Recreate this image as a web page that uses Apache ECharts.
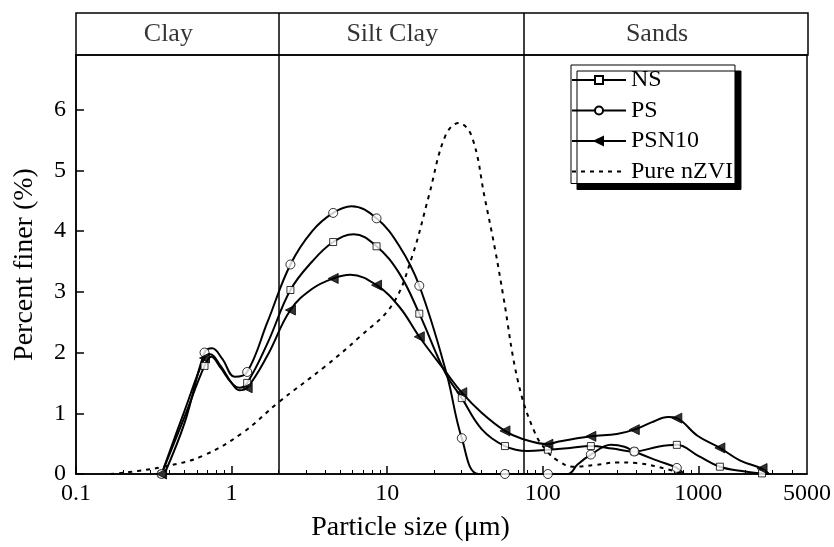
<!DOCTYPE html>
<html lang="en">
<head>
<meta charset="UTF-8">
<title>Particle size distribution</title>
<style>
html, body { margin: 0; padding: 0; background: #fff; }
#chart { width: 834px; height: 547px; }
</style>
</head>
<body>
<div id="chart"></div>
<script src="https://cdn.jsdelivr.net/npm/echarts@6/dist/echarts.min.js"></script>
<script>
// sizes (um) where the markers sit
var markSize = [0.355, 0.67, 1.26, 2.39, 4.5, 8.55, 16.1, 30.2, 57.2, 108, 204, 388, 728, 1377, 2570];
var nsMarks  = [0, 1.78, 1.5, 3.03, 3.82, 3.75, 2.64, 1.25, 0.46, 0.40, 0.46, 0.37, 0.48, 0.12, 0.01];
var psMarks  = [0, 2.0, 1.68, 3.45, 4.30, 4.21, 3.10, 0.59, 0, 0, 0.32, 0.37, 0.10, null, null];
var psnMarks = [0, 1.91, 1.42, 2.70, 3.22, 3.11, 2.26, 1.34, 0.71, 0.49, 0.62, 0.73, 0.92, 0.43, 0.09];

// curves, [size, percent]
var nsCurve = [[0.355, 0], [0.5, 0.95], [0.67, 1.78], [0.74, 1.93], [0.85, 1.75], [1.0, 1.5],
  [1.12, 1.42], [1.26, 1.5], [1.7, 2.15], [2.39, 3.03], [3.3, 3.5], [4.5, 3.82], [6.1, 3.95], [8.55, 3.75],
  [12, 3.3], [16.1, 2.64], [23.6, 1.67], [30.2, 1.25], [40.5, 0.74], [57.2, 0.46], [80, 0.38], [108, 0.40],
  [150, 0.43], [204, 0.46], [280, 0.42], [388, 0.37], [550, 0.45], [728, 0.48], [1000, 0.30], [1377, 0.12],
  [2000, 0.04], [2570, 0.01], [2850, 0]];
var psCurve = [[0.37, 0], [0.5, 0.85], [0.67, 2.0], [0.75, 2.07], [0.87, 1.9], [1.05, 1.6],
  [1.26, 1.68], [1.7, 2.5], [2.39, 3.45], [3.3, 4.0], [4.5, 4.30], [5.9, 4.41], [8.55, 4.21], [12, 3.75],
  [16.1, 3.10], [24, 1.67], [30.2, 0.59], [38.6, 0], [57.2, 0], [108, 0], [145, 0], [168, 0.16], [204, 0.32],
  [275, 0.48], [335, 0.45], [388, 0.37], [547, 0.22], [728, 0.10], [810, 0]];
var psnCurve = [[0.355, 0], [0.5, 1.05], [0.67, 1.91], [0.73, 1.97], [0.85, 1.78], [1.0, 1.5],
  [1.12, 1.38], [1.26, 1.42], [1.7, 1.95], [2.39, 2.70], [3.3, 3.05], [4.5, 3.22], [5.8, 3.28], [8.55, 3.11],
  [12, 2.75], [16.1, 2.26], [24, 1.67], [30.2, 1.34], [40.5, 1.01], [57.2, 0.71], [73.5, 0.58], [108, 0.49],
  [125, 0.53], [204, 0.62], [300, 0.66], [388, 0.73], [500, 0.85], [640, 0.94], [728, 0.92], [988, 0.63],
  [1377, 0.43], [1862, 0.22], [2570, 0.09], [2850, 0]];
var nzviCurve = [[0.166, 0], [0.25, 0.05], [0.4, 0.14], [0.655, 0.30], [1.18, 0.68], [1.98, 1.17], [4.03, 1.78],
  [6.6, 2.25], [10.8, 2.79], [14.5, 3.59], [18.5, 4.57], [23.6, 5.56], [28.8, 5.78], [35, 5.56], [42.6, 4.52],
  [49.4, 3.70], [55.8, 2.93], [69.6, 1.51], [89, 0.68], [108, 0.36], [125, 0.22], [155, 0.12], [220, 0.15],
  [300, 0.19], [400, 0.18], [630, 0.08], [800, 0]];

var zoneNames = ['Clay', 'Silt Clay', 'Sands'];
var zoneBounds = [0.1, 2, 75, 5000];
var xLabels = [0.1, 1, 10, 100, 1000, 5000];
var xMajor = [0.1, 1, 10, 100, 1000];
var yTicks = [0, 1, 2, 3, 4, 5, 6];

var font = "'Times New Roman', 'Liberation Serif', serif";

function pairs(xs, ys) {
    var out = [];
    for (var i = 0; i < xs.length; i++) {
        if (ys[i] !== null) out.push([xs[i], ys[i]]);
    }
    return out;
}

// minor ticks at 2..9 of each decade
var xMinor = [];
for (var d = 0.1; d < 5000; d *= 10) {
    for (var k = 2; k <= 9; k++) {
        var v = +(d * k).toPrecision(3);
        if (v < 5000) xMinor.push(v);
    }
}

var zoneLabels = zoneNames.map(function (n, i) {
    return { name: n, value: [Math.sqrt(zoneBounds[i] * zoneBounds[i + 1]), 0.5] };
});
var dividers = zoneBounds.slice(1, -1).map(function (b) { return { xAxis: b }; });

var black = '#000';
var none = 'rgba(0,0,0,0)';
var triangle = 'path://M0,5L10,0L10,10Z';

function curve(name, data, symbol, size, fill, dash) {
    return {
        name: name, type: 'line', xAxisIndex: 0, yAxisIndex: 0,
        data: data, smooth: 0.4, showSymbol: false,
        symbol: symbol, symbolSize: size,
        itemStyle: { color: fill, borderColor: fill === none ? none : black, borderWidth: fill === none ? 0 : 1 },
        lineStyle: { color: black, width: 2, type: dash || 'solid' },
        emphasis: { disabled: true }
    };
}
function marks(name, data, symbol, size, fill) {
    return {
        name: name, type: 'scatter', xAxisIndex: 0, yAxisIndex: 0,
        data: data, symbol: symbol, symbolSize: size,
        itemStyle: { color: fill, borderColor: black, borderWidth: 1 },
        emphasis: { disabled: true }, z: 3
    };
}

var chart = echarts.init(document.getElementById('chart'));
chart.setOption({
    animation: false,
    textStyle: { fontFamily: font, color: black },
    grid: [
        { left: 76, right: 26, top: 55, bottom: 72, show: true, borderColor: black, borderWidth: 1.5 },
        { left: 76, right: 26, top: 13, height: 42, show: true, borderColor: black, borderWidth: 1.5 }
    ],
    legend: {
        data: ['NS', 'PS', 'PSN10', 'Pure nZVI'],
        orient: 'vertical', left: 571, top: 65,
        itemWidth: 54, itemHeight: 10, itemGap: 6.5,
        padding: [3, 2, 0, 0],
        backgroundColor: '#fff', borderColor: black, borderWidth: 1,
        shadowColor: black, shadowBlur: 0, shadowOffsetX: 6, shadowOffsetY: 6,
        textStyle: { fontFamily: font, fontSize: 24, color: black, lineHeight: 24 }
    },
    xAxis: [
        {
            gridIndex: 0, type: 'log', logBase: 10, min: 0.1, max: 5000, position: 'bottom',
            name: 'Particle size (\u03bcm)', nameLocation: 'middle', nameGap: 40,
            nameTextStyle: { fontFamily: font, fontSize: 28, color: black, padding: [0, 62, 0, 0] },
            axisLine: { onZero: false, lineStyle: { color: black, width: 1.5 } },
            axisTick: { inside: true, length: 8, customValues: xMajor, lineStyle: { color: black, width: 1.5 } },
            axisLabel: {
                customValues: xLabels, fontFamily: font, fontSize: 24, color: black, margin: 8,
                formatter: function (v) { return String(+(+v).toPrecision(4)); }
            },
            splitLine: { show: false }, minorTick: { show: false }
        },
        {
            gridIndex: 0, type: 'log', logBase: 10, min: 0.1, max: 5000, position: 'bottom',
            axisLine: { show: false, onZero: false },
            axisTick: { inside: true, length: 4, customValues: xMinor, lineStyle: { color: black, width: 1 } },
            axisLabel: { show: false }, splitLine: { show: false }
        },
        { gridIndex: 1, type: 'log', logBase: 10, min: 0.1, max: 5000, show: false }
    ],
    yAxis: [
        {
            gridIndex: 0, type: 'value', min: 0, max: 6.9,
            name: 'Percent finer (%)', nameLocation: 'middle', nameGap: 37,
            nameTextStyle: { fontFamily: font, fontSize: 28, color: black },
            axisLine: { show: true, lineStyle: { color: black, width: 1.5 } },
            axisTick: { show: true, inside: true, length: 8, customValues: yTicks, lineStyle: { color: black, width: 1.5 } },
            axisLabel: { customValues: yTicks, fontFamily: font, fontSize: 24, color: black, margin: 10 },
            splitLine: { show: false }
        },
        { gridIndex: 1, type: 'value', min: 0, max: 1, show: false }
    ],
    series: [
        curve('NS', nsCurve, 'rect', 7, '#fff'),
        curve('PS', psCurve, 'circle', 8, '#fff'),
        curve('PSN10', psnCurve, triangle, 10, black),
        curve('Pure nZVI', nzviCurve, 'circle', 1, none, [4, 5]),
        marks('NS', pairs(markSize, nsMarks), 'rect', 7, '#fff'),
        marks('PS', pairs(markSize, psMarks), 'circle', 9, '#fff'),
        marks('PSN10', pairs(markSize, psnMarks), triangle, 10, black),
        {
            name: 'zones', type: 'line', xAxisIndex: 0, yAxisIndex: 0, data: [],
            markLine: {
                silent: true, symbol: ['none', 'none'], label: { show: false },
                lineStyle: { color: black, type: 'solid', width: 1.5 },
                data: dividers
            }
        },
        {
            name: 'zoneNames', type: 'scatter', xAxisIndex: 2, yAxisIndex: 1,
            data: zoneLabels, symbolSize: 0, silent: true,
            label: {
                show: true, position: 'inside', offset: [-9, 0],
                formatter: '{b}', fontFamily: font, fontSize: 26, color: black
            },
            markLine: {
                silent: true, symbol: ['none', 'none'], label: { show: false },
                lineStyle: { color: black, type: 'solid', width: 1.5 },
                data: dividers
            }
        }
    ]
});
</script>
</body>
</html>
